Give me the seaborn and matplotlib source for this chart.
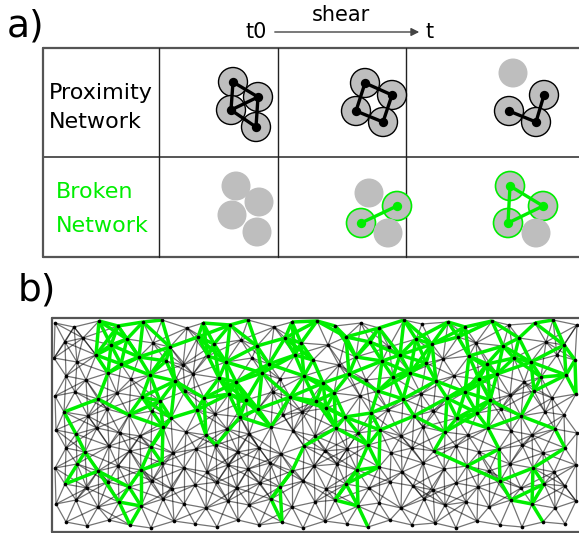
import numpy as np
import pandas as pd
import seaborn as sns
import matplotlib.pyplot as plt
from matplotlib.patches import Circle
from matplotlib.collections import LineCollection

sns.set_style('white')
plt.rcParams['font.family'] = ['DejaVu Sans']
plt.rcParams['text.color'] = 'black'

GREEN = '#00ee00'
GREY = '#bebebe'

# ---- panel a) : four grains per cell, (x, y) in pixels, on = grain is in the network
cell_x = [[233, 258, 231, 256], [365, 392, 356, 383], [513, 544, 509, 536],
          [236, 259, 232, 257], [369, 397, 361, 388], [510, 543, 508, 536]]
cell_y = [[82, 97, 110, 127], [83, 95, 111, 122], [73, 95, 111, 122],
          [186, 202, 215, 232], [193, 206, 223, 233], [186, 206, 223, 233]]
cell_on = [[1, 1, 1, 1], [1, 1, 1, 1], [0, 1, 1, 1],
           [0, 0, 0, 0], [0, 1, 1, 0], [1, 1, 1, 0]]
cell_edges = [[(0, 1), (0, 2), (1, 2), (2, 3), (1, 3)],
              [(0, 1), (0, 2), (2, 3), (1, 3)],
              [(2, 3), (3, 1)],
              [],
              [(1, 2)],
              [(0, 1), (1, 2), (0, 2)]]
cell_color = ['black', 'black', 'black', GREEN, GREEN, GREEN]

# ---- panel b) : nodes of the proximity network, row by row (pixels inside the box)
rows_x = [
    [3, 22, 47, 66, 91, 110, 135, 151, 178, 196, 222, 240, 265, 283, 309, 327, 352, 370, 396, 413, 440, 457, 483, 501, 525],
    [13, 31, 59, 75, 101, 118, 146, 162, 189, 205, 233, 249, 276, 294, 318, 337, 364, 380, 406, 424, 451, 467, 494, 512],
    [2, 25, 44, 69, 87, 114, 131, 156, 174, 200, 217, 243, 261, 287, 304, 330, 348, 374, 391, 417, 435, 462, 479, 505, 523],
    [14, 34, 56, 79, 98, 123, 141, 167, 184, 210, 228, 252, 271, 297, 314, 341, 358, 384, 402, 427, 445, 472, 489, 514],
    [3, 23, 46, 65, 90, 108, 133, 152, 177, 194, 221, 238, 264, 282, 308, 326, 351, 369, 395, 413, 438, 458, 482, 500, 524],
    [12, 36, 55, 77, 100, 119, 145, 163, 188, 206, 231, 250, 274, 293, 319, 336, 362, 381, 405, 425, 449, 469, 493, 512],
    [4, 24, 45, 68, 88, 111, 134, 154, 175, 197, 219, 241, 263, 284, 306, 328, 349, 371, 393, 416, 436, 459, 480, 503, 525],
    [14, 33, 57, 78, 99, 121, 144, 164, 186, 207, 229, 252, 273, 295, 316, 339, 360, 382, 404, 427, 447, 470, 491, 513],
    [3, 25, 46, 66, 89, 110, 132, 155, 176, 196, 218, 240, 262, 285, 305, 327, 350, 371, 392, 415, 437, 458, 481, 502, 524],
    [13, 35, 56, 77, 100, 120, 143, 165, 185, 208, 228, 251, 274, 294, 317, 338, 361, 381, 404, 426, 448, 469, 492, 513],
    [4, 24, 46, 67, 89, 111, 132, 154, 176, 197, 219, 240, 263, 283, 306, 327, 349, 372, 393, 414, 437, 459, 480, 503, 524],
    [14, 35, 57, 78, 99, 122, 143, 165, 186, 207, 230, 251, 273, 295, 316, 338, 360, 383, 404, 425, 448, 470, 491, 513],
]
rows_y = [
    [5, 9, 3, 8, 4, 2, 10, 5, 7, 2, 9, 4, 3, 8, 5, 10, 2, 6, 4, 9, 3, 7, 5, 2, 7],
    [24, 20, 27, 21, 25, 29, 19, 26, 22, 28, 20, 25, 27, 19, 24, 29, 21, 26, 19, 25, 28, 20, 24, 27],
    [40, 44, 37, 46, 39, 43, 47, 38, 44, 40, 46, 37, 42, 47, 39, 43, 37, 45, 41, 38, 46, 40, 44, 37, 42],
    [58, 62, 55, 61, 57, 63, 56, 60, 64, 55, 61, 58, 65, 56, 62, 59, 55, 63, 58, 61, 56, 64, 59, 57],
    [78, 74, 81, 75, 79, 83, 73, 80, 76, 82, 74, 79, 83, 75, 78, 73, 81, 76, 80, 74, 82, 77, 73, 80, 76],
    [94, 98, 91, 97, 93, 100, 92, 96, 99, 91, 97, 94, 90, 99, 95, 92, 98, 93, 100, 95, 91, 98, 94, 97],
    [112, 116, 110, 115, 118, 109, 114, 117, 111, 116, 109, 113, 118, 110, 115, 112, 118, 109, 114, 117, 110, 113, 117, 111, 115],
    [130, 134, 128, 133, 129, 135, 131, 127, 134, 130, 136, 128, 133, 131, 127, 135, 130, 133, 128, 134, 131, 127, 135, 130],
    [150, 146, 153, 148, 152, 145, 150, 154, 147, 151, 145, 153, 148, 146, 152, 149, 154, 145, 151, 148, 153, 146, 150, 154, 147],
    [166, 170, 164, 169, 163, 171, 167, 164, 170, 165, 169, 163, 171, 166, 170, 164, 168, 172, 165, 169, 163, 170, 166, 168],
    [186, 182, 189, 184, 188, 181, 186, 190, 183, 187, 181, 189, 184, 182, 188, 185, 190, 181, 187, 184, 189, 182, 186, 190, 183],
    [204, 208, 202, 207, 210, 203, 206, 209, 202, 207, 204, 210, 203, 206, 209, 202, 207, 205, 210, 203, 207, 209, 204, 206],
]
# 1 = grain whose contacts broke during shear
rows_broken = [
    "0011110111011101101110110",
    "001101110111011011101101",
    "0011110110111011110111101",
    "001011011101110111011011",
    "0010110111011101101110101",
    "100101101100111010110100",
    "0100010100100101001010010",
    "010010010001001001001001",
    "0010110000010011000100100",
    "100100100010010001001010",
    "0001100000100110000001100",
    "000100010010001000100010",
]

box_x0, box_y0, box_h = 52, 318, 214
contact_dist = 38

nodes = pd.DataFrame({
    'x': [box_x0 + v for r in rows_x for v in r],
    'y': [box_y0 + v for r in rows_y for v in r],
    'broken': [c == '1' for r in rows_broken for c in r],
})

fig = plt.figure(figsize=(5.79, 5.33), dpi=100)
ax = fig.add_axes([0, 0, 1, 1])
ax.set_xlim(0, 579)
ax.set_ylim(533, 0)
ax.axis('off')

# ---- table of panel a
frame = '#555555'
ax.plot([43, 579], [48, 48], color=frame, lw=1.6)
ax.plot([43, 579], [257, 257], color=frame, lw=1.6)
ax.plot([43, 43], [48, 257], color=frame, lw=1.6)
ax.plot([43, 579], [157, 157], color=frame, lw=1.4)
for cx in [159, 278, 406]:
    ax.plot([cx, cx], [48, 257], color='#222222', lw=1.0)

ax.text(7, 36, 'a)', fontsize=27, va='baseline')
ax.text(245, 38, 't0', fontsize=15, va='baseline')
ax.text(341, 21, 'shear', fontsize=15, ha='center', va='baseline')
ax.text(426, 38, 't', fontsize=15, va='baseline')
ax.annotate('', xy=(422, 32), xytext=(272, 32),
            arrowprops=dict(arrowstyle='-|>', color='#444444', lw=1.0, mutation_scale=12))

ax.text(49, 99, 'Proximity', fontsize=16, va='baseline')
ax.text(49, 128, 'Network', fontsize=16, va='baseline')
ax.text(56, 198, 'Broken', fontsize=16, va='baseline', color=GREEN)
ax.text(56, 232, 'Network', fontsize=16, va='baseline', color=GREEN)

for xs, ys, on, edges, col in zip(cell_x, cell_y, cell_on, cell_edges, cell_color):
    for x, y, o in zip(xs, ys, on):
        ec = col if o else 'none'
        ax.add_patch(Circle((x, y), 14.5, facecolor=GREY, edgecolor=ec,
                            lw=1.0 if col == 'black' else 1.2, zorder=2))
    for i, j in edges:
        ax.plot([xs[i], xs[j]], [ys[i], ys[j]], color=col, lw=2.4, zorder=3,
                solid_capstyle='round')
    sel = [k for k in range(4) if on[k]]
    if sel:
        sns.scatterplot(x=[xs[k] for k in sel], y=[ys[k] for k in sel], ax=ax,
                        color=col, s=45, linewidth=0, zorder=4, legend=False)

# ---- panel b network
ax.text(18, 300, 'b)', fontsize=27, va='baseline')
ax.plot([box_x0, 579], [box_y0, box_y0], color=frame, lw=1.6, zorder=5)
ax.plot([box_x0, 579], [box_y0 + box_h, box_y0 + box_h], color=frame, lw=1.6, zorder=5)
ax.plot([box_x0, box_x0], [box_y0, box_y0 + box_h], color=frame, lw=1.6, zorder=5)

pts = nodes[['x', 'y']].to_numpy(float)
d = np.hypot(pts[:, None, 0] - pts[None, :, 0], pts[:, None, 1] - pts[None, :, 1])
ii, jj = np.where(np.triu(d < contact_dist, 1))
brk = nodes['broken'].to_numpy()
green = brk[ii] & brk[jj]
segs = np.stack([pts[ii], pts[jj]], axis=1)

ax.add_collection(LineCollection(segs[~green], colors='black', linewidths=0.9,
                                 alpha=0.55, zorder=2))
ax.add_collection(LineCollection(segs[green], colors=GREEN, linewidths=2.5, zorder=3))
sns.scatterplot(data=nodes, x='x', y='y', ax=ax, color='black', s=7,
                linewidth=0, zorder=4, legend=False)
ax.set_xlim(0, 579)
ax.set_ylim(533, 0)
ax.axis('off')

fig.savefig('out.png', dpi=100)
